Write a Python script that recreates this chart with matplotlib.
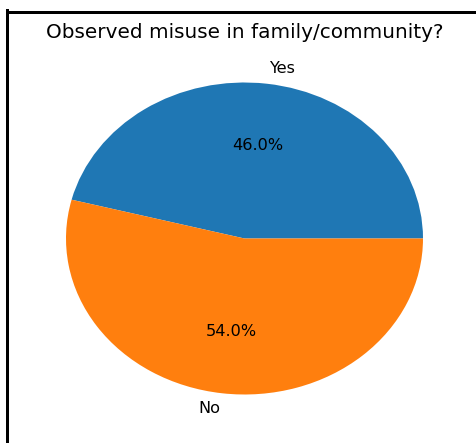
import matplotlib
matplotlib.use('Agg')
import matplotlib.pyplot as plt
from matplotlib.lines import Line2D

labels = ['Yes', 'No']
shares = [46.0, 54.0]
title = 'Observed misuse in family/community?'

W, H = 477, 443
DPI = 116
fig = plt.figure(figsize=(W / DPI, H / DPI), dpi=DPI)
fig.patch.set_facecolor('white')

## -- pie centre ~(244.5, 238.5) px, radii 178.5 x 156 px, limits +-1.25
cx, cy, rx, ry = 244.5, 238.5, 178.5, 156.0
aw, ah = 2.5 * rx, 2.5 * ry
ax = fig.add_axes([(cx - aw / 2) / W, (H - cy - ah / 2) / H, aw / W, ah / H])
ax.pie(shares, labels=labels, autopct='%1.1f%%', textprops={'fontsize': 10})
ax.set_aspect('auto')
ax.set_xlim(-1.25, 1.25)
ax.set_ylim(-1.25, 1.25)
ax.set_title(title, fontsize=12.4, pad=3.5)

## -- screenshot border (top and left edges)
fig.add_artist(Line2D([7.5 / W, 1.0], [1 - 11.5 / H, 1 - 11.5 / H],
                      transform=fig.transFigure, color='black', lw=3 * 72 / DPI))
fig.add_artist(Line2D([7.5 / W, 7.5 / W], [0.0, 1 - 10 / H],
                      transform=fig.transFigure, color='black', lw=3 * 72 / DPI))

fig.savefig('out.png', dpi=DPI)
